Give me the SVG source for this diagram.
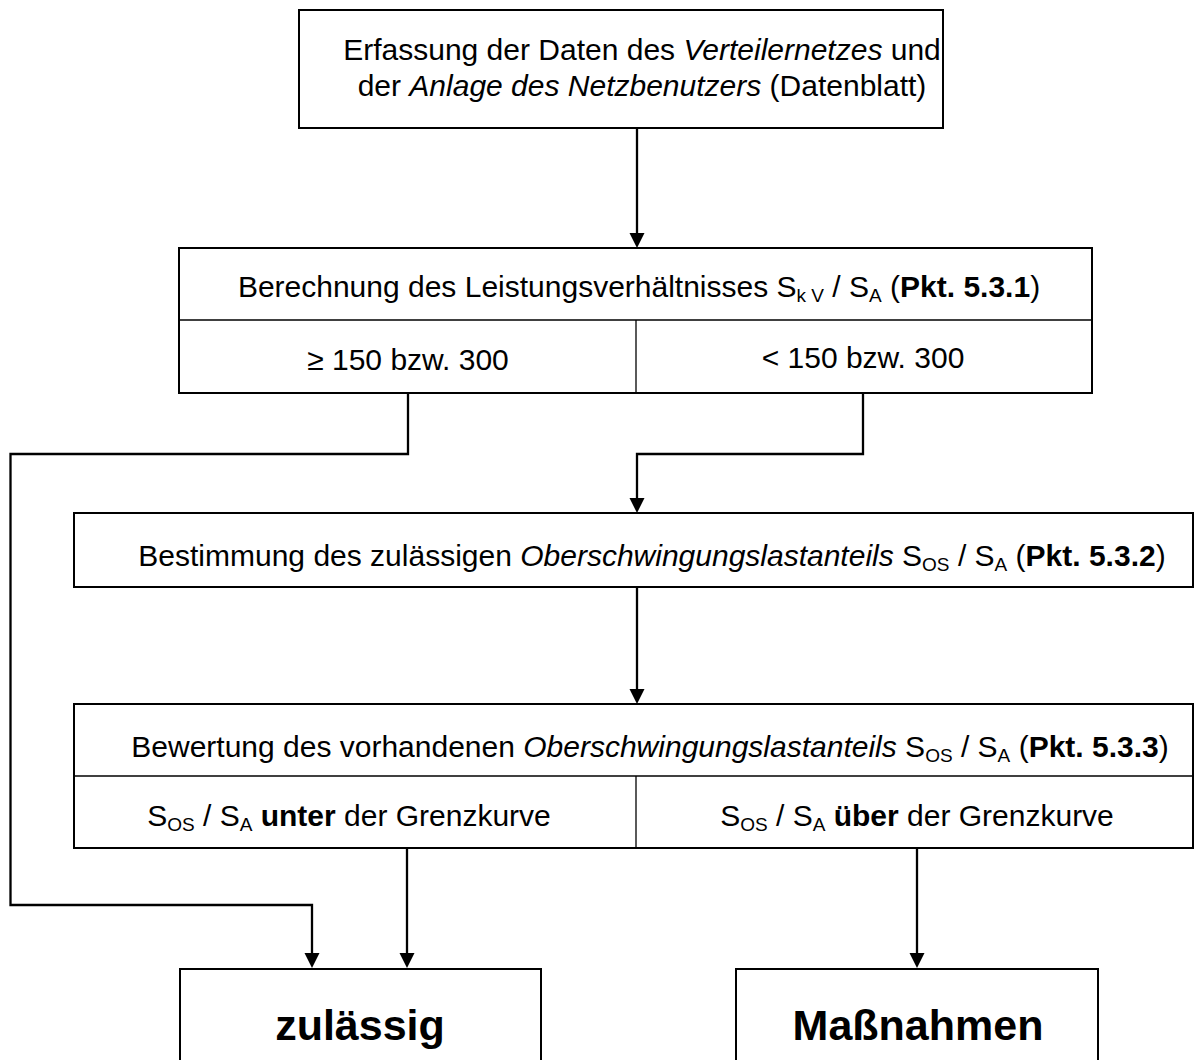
<svg xmlns="http://www.w3.org/2000/svg" width="1194" height="1060" viewBox="0 0 1194 1060">
<style>
.box{fill:#fff;stroke:#000;stroke-width:2}
.div{stroke:#000;stroke-width:1.3;fill:none}
.t{font-family:"Liberation Sans",Arial,sans-serif;font-size:30px;fill:#000;text-anchor:middle}
.big{font-family:"Liberation Sans",Arial,sans-serif;font-size:43px;font-weight:bold;fill:#000;text-anchor:middle}
.sub{font-size:19px}
.c{stroke:#000;stroke-width:2.3;fill:none}
</style>
<rect width="1194" height="1060" fill="#fff"/>
<g id="connectors">
<path class="c" d="M637,128 V238"/>
<path class="c" d="M408,393 V454 H10.5 V905 H312 V958"/>
<path class="c" d="M863,393 V454 H637 V503"/>
<path class="c" d="M637,587 V694"/>
<path class="c" d="M407,848 V958"/>
<path class="c" d="M917,848 V958"/>
<g fill="#000">
<path d="M629.5,233 L644.5,233 L637,248 Z"/>
<path d="M304.5,953 L319.5,953 L312,968 Z"/>
<path d="M629.5,498 L644.5,498 L637,513 Z"/>
<path d="M629.5,689 L644.5,689 L637,704 Z"/>
<path d="M399.5,953 L414.5,953 L407,968 Z"/>
<path d="M909.5,953 L924.5,953 L917,968 Z"/>
</g>
</g>
<g id="n1">
<rect class="box" x="299" y="10" width="644" height="118"/>
<text class="t" x="642" y="60">Erfassung der Daten des <tspan font-style="italic">Verteilernetzes</tspan> und</text>
<text class="t" x="642" y="96">der <tspan font-style="italic">Anlage des Netzbenutzers</tspan> (Datenblatt)</text>
</g>
<g id="n2">
<rect class="box" x="179" y="248" width="913" height="145"/>
<line class="div" x1="179" y1="320" x2="1092" y2="320"/>
<line class="div" x1="636" y1="320" x2="636" y2="393"/>
<text class="t" x="639" y="297">Berechnung des Leistungsverhältnisses S<tspan class="sub" dy="5">k V</tspan><tspan dy="-5"> / S</tspan><tspan class="sub" dy="5">A</tspan><tspan dy="-5"> (</tspan><tspan font-weight="bold">Pkt. 5.3.1</tspan>)</text>
<text class="t" x="408" y="370">≥ 150 bzw. 300</text>
<text class="t" x="863" y="368">&lt; 150 bzw. 300</text>
</g>
<g id="n3">
<rect class="box" x="74" y="513" width="1119" height="74"/>
<text class="t" x="652" y="566">Bestimmung des zulässigen <tspan font-style="italic">Oberschwingungslastanteils</tspan> S<tspan class="sub" dy="5">OS</tspan><tspan dy="-5"> / S</tspan><tspan class="sub" dy="5">A</tspan><tspan dy="-5"> (</tspan><tspan font-weight="bold">Pkt. 5.3.2</tspan>)</text>
</g>
<g id="n4">
<rect class="box" x="74" y="704" width="1119" height="144"/>
<line class="div" x1="74" y1="776" x2="1193" y2="776"/>
<line class="div" x1="636" y1="776" x2="636" y2="848"/>
<text class="t" x="650" y="757">Bewertung des vorhandenen <tspan font-style="italic">Oberschwingungslastanteils</tspan> S<tspan class="sub" dy="5">OS</tspan><tspan dy="-5"> / S</tspan><tspan class="sub" dy="5">A</tspan><tspan dy="-5"> (</tspan><tspan font-weight="bold">Pkt. 5.3.3</tspan>)</text>
<text class="t" x="349" y="826">S<tspan class="sub" dy="5">OS</tspan><tspan dy="-5"> / S</tspan><tspan class="sub" dy="5">A</tspan><tspan dy="-5"> </tspan><tspan font-weight="bold">unter</tspan> der Grenzkurve</text>
<text class="t" x="917" y="826">S<tspan class="sub" dy="5">OS</tspan><tspan dy="-5"> / S</tspan><tspan class="sub" dy="5">A</tspan><tspan dy="-5"> </tspan><tspan font-weight="bold">über</tspan> der Grenzkurve</text>
</g>
<g id="n5">
<rect class="box" x="180" y="969" width="361" height="100"/>
<text class="big" x="360" y="1040">zulässig</text>
</g>
<g id="n6">
<rect class="box" x="736" y="969" width="362" height="100"/>
<text class="big" x="918" y="1040">Maßnahmen</text>
</g>
</svg>
